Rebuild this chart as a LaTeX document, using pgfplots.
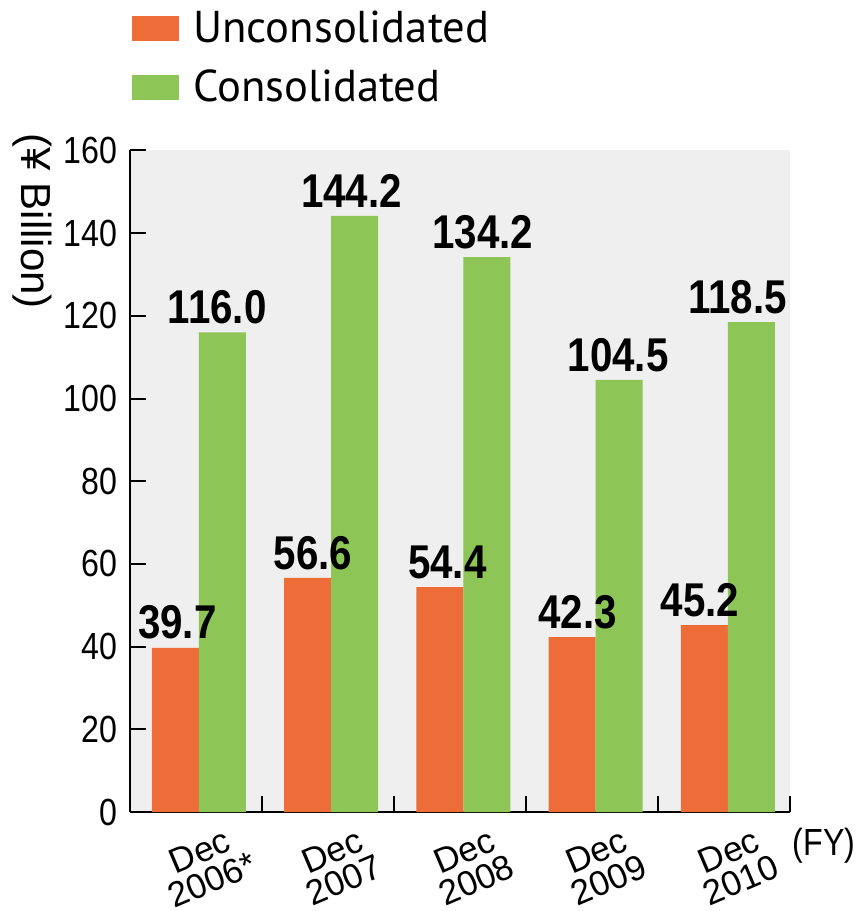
\documentclass[border=0pt]{standalone}
\usepackage{fontspec}
\setmainfont{Liberation Sans}
\newfontfamily\condfont{Liberation Sans}[FakeStretch=0.85]
\newfontfamily\legfont{PT Sans}
\usepackage{graphicx}
\usepackage{pgfplots}
\pgfplotsset{compat=1.18}

\definecolor{barOrange}{RGB}{238,108,56}
\definecolor{barGreen}{RGB}{141,197,87}
\definecolor{panelGray}{RGB}{239,239,239}

% slanted category label
\newcommand{\cat}[1]{\rotatebox{23}{#1}}

% square swatch for the legend
\pgfplotsset{
  swatch legend/.style={
    legend image code/.code={\fill[##1] (0pt,-6.25pt) rectangle (23.5pt,6.25pt);}},
  shifted labels/.style={
    visualization depends on={\thisrow{dx}\as\dx},
    nodes near coords style={xshift=\dx pt}},
}

% Values in billions of yen; dx nudges the value label sideways (pt)
\pgfplotstableread{
x  y     dx
0  39.7  1
1  56.6  2.75
2  54.4  3.75
3  42.3  2.75
4  45.2  -2.25
}\unconsolidated
\pgfplotstableread{
x  y      dx
0  116.0  -2.5
1  144.2  -1.5
2  134.2  -2
3  104.5  -0.5
4  118.5  -7
}\consolidated

\begin{document}
\begin{tikzpicture}
\begin{axis}[
  scale only axis,
  width=330pt, height=330.75pt,
  xmin=-0.52, xmax=4.47,
  ymin=0, ymax=160,
  ytick={0,20,...,160},
  ybar=0pt, bar width=23.5pt,
  axis background/.style={fill=panelGray},
  axis x line*=bottom, axis y line*=left,
  axis line style={line width=1pt, black},
  tick style={line width=1pt, black},
  tick align=inside,
  major tick length=8pt,
  minor tick length=8pt,
  /pgf/number format/assume math mode=true,
  yticklabel style={font=\condfont\fontsize{18.9}{20}\selectfont, anchor=east, inner sep=0pt, xshift=-6pt},
  % year labels (lower line) on the category positions
  xtick={0,1,2,3,4},
  xticklabels={\cat{2006*}, \cat{2007}, \cat{2008}, \cat{2009}, \cat{2010}},
  major x tick style={draw=none},
  xticklabel style={font=\fontsize{17.5}{18}\selectfont, anchor=center, inner sep=0pt,
    xshift=6.5pt, yshift=-34pt},
  % separators between the year groups
  minor xtick={0.475,1.475,2.475,3.475,4.47},
  % month labels (upper line)
  extra x ticks={0,1,2,3,4},
  extra x tick labels={\cat{Dec}, \cat{Dec}, \cat{Dec}, \cat{Dec}, \cat{Dec}},
  extra x tick style={
    every x tick label/.style={font=\fontsize{17.5}{18}\selectfont, anchor=center, inner sep=0pt,
      xshift=0.5pt, yshift=-19.5pt}},
  xlabel={(FY)},
  xlabel style={font=\condfont\fontsize{18.9}{20}\selectfont, at={(axis description cs:1.0515,-0.0514)}, anchor=center, inner sep=0pt},
  ylabel={(¥ Billion)},
  ylabel style={font=\fontsize{21}{22}\selectfont, rotate=180, at={(axis description cs:-0.1485,0.893)}, anchor=center, inner sep=0pt},
  nodes near coords={\pgfmathprintnumber[fixed,fixed zerofill,precision=1,assume math mode=true]{\pgfplotspointmeta}},
  every node near coord/.append style={font=\condfont\bfseries\fontsize{23.7}{24}\selectfont, anchor=south, inner sep=0pt, yshift=4pt, black},
  legend style={draw=none, fill=none, inner sep=0pt, font=\legfont\fontsize{22.3}{24}\selectfont,
    at={(axis description cs:0.003,1.211)}, anchor=north west, row sep=12pt,
    nodes={inner sep=0pt}},
  legend cell align=left,
  clip=false,
]
\addplot[fill=barOrange, draw=none, swatch legend, shifted labels]
  table[x=x, y=y] {\unconsolidated};
\addlegendentry{\hspace{7pt}Unconsolidated}
\addplot[fill=barGreen, draw=none, swatch legend, shifted labels]
  table[x=x, y=y] {\consolidated};
\addlegendentry{\hspace{7pt}Consolidated}
\end{axis}
\pgfresetboundingbox
\path[use as bounding box] (-65pt,-49.5pt) rectangle (364.5pt,406pt);
\end{tikzpicture}
\end{document}
